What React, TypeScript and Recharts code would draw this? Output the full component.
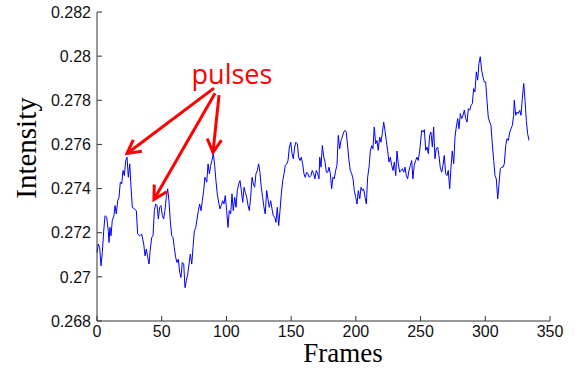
import {
  LineChart, Line, XAxis, YAxis, ReferenceLine, ReferenceDot,
} from "recharts";

// frame index (x) for each sample
const frames = [
  0, 1.0, 2.1, 3.1, 4.1, 5.2, 6.2, 7.5, 8.7, 9.3,
  10.0, 10.8, 11.8, 13.1, 13.9, 14.9, 16.0, 17.0, 18.0, 19.1,
  20.1, 21.1, 22.2, 23.2, 24.2, 25.3, 26.3, 27.3, 28.8, 30.4,
  31.4, 33.0, 34.5, 36.1, 37.1, 38.1, 39.2, 40.2, 41.2, 42.3,
  43.3, 44.3, 45.4, 46.4, 47.4, 48.4, 49.4, 50.5, 51.5, 52.5,
  53.5, 54.6, 55.6, 56.6, 57.7, 58.7, 59.7, 60.8, 61.8, 62.8,
  63.9, 64.9, 65.9, 67.0, 68.0, 69.0, 70.1, 71.1, 72.1, 73.2,
  74.2, 75.2, 76.3, 77.3, 78.3, 79.3, 80.4, 81.4, 82.4, 83.4,
  84.8, 85.8, 86.8, 87.8, 88.8, 89.9, 90.9, 91.9, 92.9, 94.0,
  95.0, 96.0, 97.1, 98.1, 99.1, 100.2, 101.2, 102.2, 103.3, 104.3,
  105.3, 106.4, 107.4, 108.4, 109.5, 110.5, 111.5, 112.6, 113.6, 114.6,
  115.7, 116.7, 117.7, 118.7, 119.8, 120.8, 121.8, 122.8, 123.9, 124.9,
  125.9, 126.9, 128.0, 129.0, 130.0, 131.1, 132.1, 133.1, 134.2, 135.2,
  136.2, 137.3, 138.3, 139.3, 140.4, 141.4, 142.4, 143.5, 144.5, 145.5,
  146.6, 147.6, 148.6, 149.7, 150.7, 151.7, 152.7, 153.7, 154.8, 155.8,
  156.8, 157.8, 158.9, 159.9, 160.9, 162.0, 163.0, 164.0,
  165.3, 166.3, 167.4, 168.4, 169.4, 170.5, 171.5, 172.1, 173.1, 174.1,
  175.2, 176.2, 177.2, 178.3, 179.3, 180.3, 181.3, 182.3, 183.3, 184.4,
  185.4, 186.4, 187.5, 188.5, 189.5, 190.6, 191.6, 192.6, 193.7, 194.7,
  195.7, 196.8, 197.8, 198.8, 199.9, 200.9, 201.9, 203.0, 204.0, 205.0,
  206.0, 207.1, 208.1, 209.1, 210.2, 211.2, 212.2, 213.2, 214.2, 215.3,
  216.3, 217.3, 218.4, 219.4, 220.4, 221.5, 222.5, 223.5, 224.6, 225.6,
  226.6, 227.7, 228.7, 229.7, 230.8, 231.8, 232.8, 233.9, 234.9, 235.9,
  237.0, 238.0, 239.0, 240.0, 241.0, 242.1, 243.1, 244.1, 245.1, 246.2,
  247.2, 248.2, 249.3,
  250.9, 251.9, 252.9, 254.0, 255.0, 256.0, 257.0, 258.0, 259.1, 260.1,
  261.1, 262.1, 263.2, 264.2, 265.2, 266.3, 267.3, 268.3, 269.4, 270.4,
  271.4, 272.5, 273.5, 274.5, 275.6, 276.6, 277.6, 278.7, 279.7, 280.7,
  281.8, 282.8, 283.8, 284.9, 285.9, 286.9, 288.0, 289.0, 290.0, 291.0,
  292.0, 293.1, 294.1, 295.1, 296.1, 297.2, 298.2, 299.2, 300.3, 301.3,
  302.3, 303.4, 304.4, 305.4, 306.5, 307.5, 308.5, 309.6, 310.6, 311.6,
  312.7, 313.7, 314.7, 315.8, 316.8, 317.8, 318.9, 319.9, 320.9, 321.9,
  322.4, 323.5, 324.5, 325.5, 326.6, 327.6, 328.6, 329.7, 330.7, 331.7,
  332.7, 333.8,
];

const intensity = [
  0.27110, 0.27149, 0.27133, 0.27050, 0.27110, 0.27209, 0.27277, 0.27270, 0.27209, 0.27156,
  0.27224, 0.27186, 0.27255, 0.27277, 0.27323, 0.27285, 0.27345, 0.27360, 0.27429, 0.27421,
  0.27482, 0.27459, 0.27527, 0.27542, 0.27451, 0.27512, 0.27406, 0.27315, 0.27308, 0.27300,
  0.27194, 0.27186, 0.27194, 0.27149, 0.27095, 0.27126, 0.27088, 0.27058, 0.27126, 0.27179,
  0.27186, 0.27300, 0.27330, 0.27323, 0.27262, 0.27315, 0.27323, 0.27277, 0.27262, 0.27300,
  0.27360, 0.27399, 0.27345, 0.27255, 0.27186, 0.27179, 0.27133, 0.27088, 0.27065, 0.27080,
  0.27020, 0.26997, 0.27065, 0.27058, 0.26951, 0.26982, 0.27012, 0.27058, 0.27103, 0.27058,
  0.27133, 0.27209, 0.27224, 0.27262, 0.27300, 0.27330, 0.27300, 0.27345, 0.27391, 0.27451,
  0.27429, 0.27512, 0.27467, 0.27505, 0.27527, 0.27558, 0.27505, 0.27436, 0.27376, 0.27338,
  0.27308, 0.27323, 0.27345, 0.27330, 0.27368, 0.27300, 0.27224, 0.27300, 0.27285, 0.27376,
  0.27300, 0.27360, 0.27315, 0.27391, 0.27421, 0.27436, 0.27391, 0.27338, 0.27406, 0.27383,
  0.27360, 0.27323, 0.27300, 0.27360, 0.27451, 0.27421, 0.27406, 0.27467, 0.27482, 0.27512,
  0.27474, 0.27406, 0.27360, 0.27315, 0.27285, 0.27391, 0.27353, 0.27315, 0.27345, 0.27308,
  0.27277, 0.27270, 0.27247, 0.27315, 0.27232, 0.27300, 0.27376, 0.27436, 0.27467, 0.27505,
  0.27512, 0.27527, 0.27588, 0.27610, 0.27558, 0.27535, 0.27588, 0.27610, 0.27603, 0.27542,
  0.27527, 0.27542, 0.27512, 0.27467, 0.27451, 0.27474, 0.27467, 0.27451,
  0.27459, 0.27482, 0.27467, 0.27444, 0.27482, 0.27467, 0.27444, 0.27542, 0.27497, 0.27595,
  0.27542, 0.27520, 0.27474, 0.27474, 0.27497, 0.27467, 0.27399, 0.27451, 0.27444, 0.27482,
  0.27505, 0.27641, 0.27580, 0.27618, 0.27633, 0.27656, 0.27664, 0.27656, 0.27588, 0.27527,
  0.27482, 0.27467, 0.27444, 0.27391, 0.27360, 0.27330, 0.27391, 0.27353, 0.27406, 0.27391,
  0.27399, 0.27360, 0.27330, 0.27451, 0.27497, 0.27570, 0.27595, 0.27580, 0.27679, 0.27603,
  0.27618, 0.27573, 0.27633, 0.27610, 0.27649, 0.27701, 0.27664, 0.27618, 0.27570, 0.27520,
  0.27542, 0.27505, 0.27482, 0.27520, 0.27459, 0.27570, 0.27512, 0.27474, 0.27482, 0.27490,
  0.27474, 0.27497, 0.27459, 0.27444, 0.27482, 0.27505, 0.27527, 0.27444, 0.27505, 0.27527,
  0.27542, 0.27527, 0.27570,
  0.27664, 0.27656, 0.27667, 0.27573, 0.27588, 0.27558, 0.27641, 0.27656, 0.27588, 0.27679,
  0.27535, 0.27580, 0.27588, 0.27550, 0.27497, 0.27474, 0.27505, 0.27550, 0.27467, 0.27459,
  0.27482, 0.27399, 0.27497, 0.27570, 0.27512, 0.27633, 0.27679, 0.27717, 0.27671, 0.27740,
  0.27717, 0.27732, 0.27755, 0.27717, 0.27701, 0.27762, 0.27755, 0.27777, 0.27785, 0.27853,
  0.27838, 0.27929, 0.27891, 0.27967, 0.27997, 0.27936, 0.27906, 0.27883, 0.27883, 0.27800,
  0.27724, 0.27701, 0.27686, 0.27603, 0.27527, 0.27459, 0.27444, 0.27353, 0.27421, 0.27490,
  0.27497, 0.27497, 0.27512, 0.27595, 0.27626, 0.27618, 0.27656, 0.27671, 0.27686, 0.27732,
  0.27800, 0.27732, 0.27747, 0.27740, 0.27755, 0.27732, 0.27808, 0.27876, 0.27800, 0.27709,
  0.27649, 0.27618,
];

const xTicks = [0, 50, 100, 150, 200, 250, 300, 350];
const yTicks = [0.268, 0.27, 0.272, 0.274, 0.276, 0.278, 0.28, 0.282];

// "pulses" callout: arrows from the label down to the three peaks
const pulseLabel = { frame: 104.3, value: 0.27876, text: "pulses" };
const pulseArrows = [
  { from: [90.4, 0.27855], to: [23.2, 0.27559] },
  { from: [91.2, 0.27832], to: [44.0, 0.2735] },
  { from: [94.3, 0.27823], to: [89.6, 0.27564] },
];

const data = frames.map((f, i) => ({ frame: f, intensity: intensity[i] }));

const RED = "#ff0000";
const tickFont = { fill: "#111", fontSize: 16, fontFamily: "'Liberation Sans', Arial, sans-serif" };
const titleFont = "'Liberation Serif', 'Times New Roman', serif";

function Arrow(props: any) {
  const { x1, y1, x2, y2 } = props;
  const ang = Math.atan2(y2 - y1, x2 - x1);
  const len = 15;
  const spread = 0.5;
  const ax = x2 - len * Math.cos(ang - spread);
  const ay = y2 - len * Math.sin(ang - spread);
  const bx = x2 - len * Math.cos(ang + spread);
  const by = y2 - len * Math.sin(ang + spread);
  return (
    <g>
      <line x1={x1} y1={y1} x2={x2} y2={y2} stroke={RED} strokeWidth={3} />
      <polyline
        points={`${ax},${ay} ${x2},${y2} ${bx},${by}`}
        fill="none"
        stroke={RED}
        strokeWidth={3}
      />
    </g>
  );
}

export default function App() {
  return (
    <div style={{ position: "absolute", left: 0, top: 0, width: 577, height: 368, background: "#fff" }}>
      <LineChart width={577} height={368} data={data} margin={{ top: 12, right: 27, bottom: 0, left: 0 }}>
        <XAxis
          dataKey="frame"
          type="number"
          domain={[0, 350]}
          ticks={xTicks}
          height={47}
          stroke="#333"
          tickSize={-5}
          tickMargin={10}
          tick={tickFont}
          interval={0}
          label={() => (
            <text x={343} y={362} textAnchor="middle" fontSize={27} fontFamily={titleFont} fill="#000">
              Frames
            </text>
          )}
        />
        <XAxis
          xAxisId="top"
          orientation="top"
          dataKey="frame"
          type="number"
          domain={[0, 350]}
          ticks={xTicks}
          height={0}
          stroke="#333"
          tickSize={-5}
          tickFormatter={() => ""}
          interval={0}
        />
        <YAxis
          type="number"
          domain={[0.268, 0.282]}
          ticks={yTicks}
          width={97}
          stroke="#333"
          tickSize={-5}
          tickMargin={11}
          tick={tickFont}
          interval={0}
          tickFormatter={(v: number) => String(v)}
          label={() => (
            <text x={36} y={148} textAnchor="middle" fontSize={29} transform="rotate(-90 36 148)"
              fontFamily={titleFont} fill="#000">
              Intensity
            </text>
          )}
        />
        <YAxis
          yAxisId="right"
          orientation="right"
          type="number"
          domain={[0.268, 0.282]}
          ticks={yTicks}
          width={0}
          stroke="#777"
          tickSize={-5}
          tickFormatter={() => ""}
          interval={0}
        />
        <Line
          type="linear"
          dataKey="intensity"
          stroke="#0000ff"
          strokeWidth={1}
          dot={false}
          isAnimationActive={false}
        />
        {pulseArrows.map((a, i) => (
          <ReferenceLine
            key={i}
            segment={[{ x: a.from[0], y: a.from[1] }, { x: a.to[0], y: a.to[1] }]}
            shape={Arrow}
          />
        ))}
        <ReferenceDot
          x={pulseLabel.frame}
          y={pulseLabel.value}
          r={0}
          shape={(p: any) => (
            <text x={p.cx} y={p.cy} textAnchor="middle" fill={RED} fontSize={27}
              fontFamily="'Open Sans', 'Noto Sans', sans-serif">
              {pulseLabel.text}
            </text>
          )}
        />
      </LineChart>
    </div>
  );
}
